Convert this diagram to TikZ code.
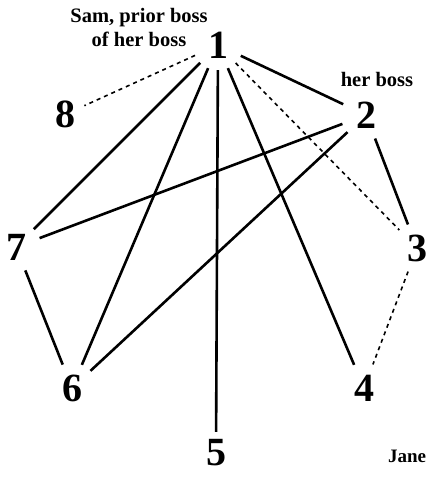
\documentclass[tikz,border=0pt]{standalone}
\usepackage{fontspec}
\setmainfont{Liberation Serif}
\usetikzlibrary{positioning}

\begin{document}
\begin{tikzpicture}[
    x=1pt, y=-1pt,
    num/.style={circle, inner sep=0pt, minimum size=50pt, font=\fontsize{40}{40}\selectfont\bfseries},
    lbl/.style={align=center, inner sep=0pt, font=\fontsize{20.5}{24}\selectfont\bfseries},
    tie/.style={line width=2.6pt},
    weak/.style={line width=1.6pt, dash pattern=on 4pt off 4pt}
  ]
    \useasboundingbox (0,0) rectangle (427,477);

    \node[num] (p1) at (218,45) {1};
    \node[num] (p2) at (366,115) {2};
    \node[num] (p3) at (417,248) {3};
    \node[num] (p4) at (364,388) {4};
    \node[num, minimum size=36pt] (p5) at (216,453) {5};
    \node[num] (p6) at (72,388) {6};
    \node[num] (p7) at (16,247) {7};
    \node[num, minimum size=40pt] (p8) at (66,114) {8};

    \node[lbl] (sam) at (139,27) {Sam, prior boss\\of her boss};
    \node[lbl] (herboss) at (377,79) {her boss};
    \node[lbl, font=\fontsize{19}{24}\selectfont\bfseries] (jane) at (407,456) {Jane};

    % ties from 1
    \draw[tie] (p1) -- (p2);
    \draw[tie] (p1) -- (p4);
    \draw[tie, shorten >=3pt] (p1) -- (p5);
    \draw[tie] (p1) -- (p6);
    \draw[tie] (p1) -- (p7);
    \draw[weak] (p1) -- (p8);
    \draw[weak] (p1) -- (p3);

    % other ties
    \draw[tie] (p2) -- (p3);
    \draw[tie] (p2) -- (p7);
    \draw[tie] (p2) -- (p6);
    \draw[tie] (p7) -- (p6);
    \draw[weak] (p3) -- (p4);
  \end{tikzpicture}
\end{document}
